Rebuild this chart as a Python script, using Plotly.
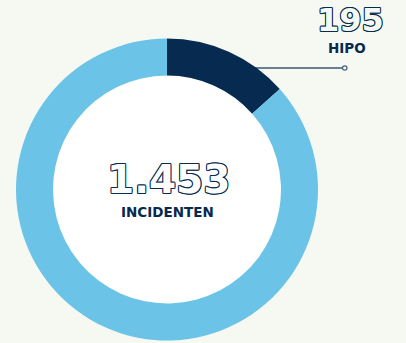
import plotly.graph_objects as go

# Incident counts
labels = ["HIPO", "Overige incidenten"]
values = [195, 1258]
total_label = "1.453"
total_caption = "INCIDENTEN"
hipo_label = "195"
hipo_caption = "HIPO"

W, H = 406, 343
BG = "#f6f9f1"
NAVY = "#062a50"
LIGHT = "#6cc3e8"

# Donut geometry in pixels
cx, cy, r_out, r_in = 167, 189.5, 151, 114

def px_x(x):
    return x / W

def px_y(y):
    return 1 - y / H

# thin navy outline around hollow numerals
outline = ", ".join(
    f"{dx}px {dy}px 0 {NAVY}"
    for dx, dy in [(-0.8, -0.8), (0.8, -0.8), (-0.8, 0.8), (0.8, 0.8), (0, 1), (0, -1), (1, 0), (-1, 0)]
)

fig = go.Figure(
    go.Pie(
        labels=labels,
        values=values,
        hole=r_in / r_out,
        sort=False,
        direction="clockwise",
        rotation=0,
        marker=dict(colors=[NAVY, LIGHT], line=dict(width=0)),
        textinfo="none",
        hoverinfo="label+value",
        showlegend=False,
        domain=dict(
            x=[px_x(cx - r_out), px_x(cx + r_out)],
            y=[px_y(cy + r_out), px_y(cy - r_out)],
        ),
    )
)

shapes = [
    # white centre of the donut
    dict(
        type="circle", xref="paper", yref="paper", layer="below",
        x0=px_x(cx - r_in), x1=px_x(cx + r_in),
        y0=px_y(cy + r_in), y1=px_y(cy - r_in),
        fillcolor="white", line=dict(width=0),
    ),
    # leader line to the HIPO label
    dict(
        type="line", xref="paper", yref="paper", layer="below",
        x0=px_x(252), x1=px_x(343), y0=px_y(68), y1=px_y(68),
        line=dict(color="#6b7f93", width=2),
    ),
    dict(
        type="circle", xref="paper", yref="paper",
        x0=px_x(342.5), x1=px_x(347), y0=px_y(70.2), y1=px_y(65.8),
        fillcolor=BG, line=dict(color="#46607a", width=1.2),
    ),
]

annotations = [
    dict(
        text=total_label, x=px_x(168), y=px_y(179.5), xref="paper", yref="paper",
        showarrow=False, xanchor="center", yanchor="middle",
        font=dict(family="DejaVu Sans", size=39, color="white", weight="bold", shadow=outline),
    ),
    dict(
        text=total_caption, x=px_x(167), y=px_y(212), xref="paper", yref="paper",
        showarrow=False, xanchor="center", yanchor="middle",
        font=dict(family="DejaVu Sans", size=13.5, color=NAVY, weight="bold"),
    ),
    dict(
        text=hipo_label, x=px_x(350), y=px_y(20), xref="paper", yref="paper",
        showarrow=False, xanchor="center", yanchor="middle",
        font=dict(family="DejaVu Sans", size=32, color=BG, weight="bold", shadow=outline),
    ),
    dict(
        text=hipo_caption, x=px_x(347), y=px_y(48), xref="paper", yref="paper",
        showarrow=False, xanchor="center", yanchor="middle",
        font=dict(family="DejaVu Sans", size=13.5, color=NAVY, weight="bold"),
    ),
]

fig.update_layout(
    width=W, height=H,
    margin=dict(l=0, r=0, t=0, b=0),
    paper_bgcolor=BG, plot_bgcolor=BG,
    shapes=shapes,
    annotations=annotations,
)

fig.write_html("out.html")
